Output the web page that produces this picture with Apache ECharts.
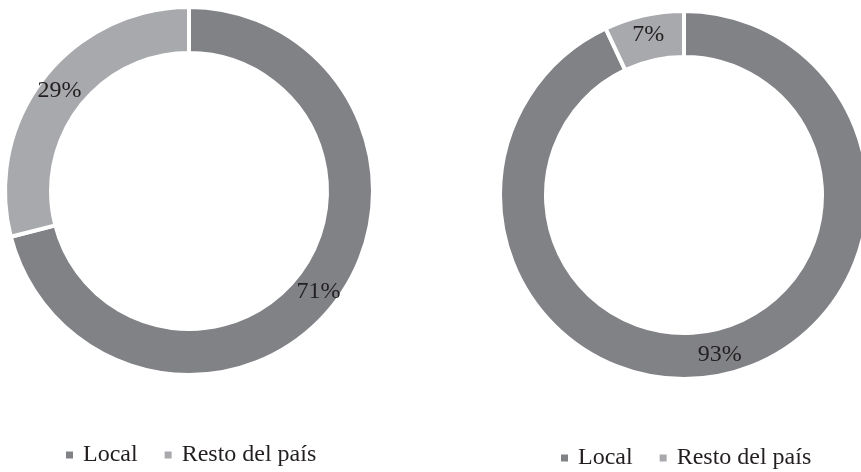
<!DOCTYPE html>
<html>
<head>
<meta charset="utf-8">
<script src="https://cdn.jsdelivr.net/npm/echarts@6/dist/echarts.min.js"></script>
<style>
html,body{margin:0;padding:0;background:#fff;}
#c{width:861px;height:472px;}
</style>
</head>
<body>
<div id="c"></div>
<script>
const categories = ['Local', 'Resto del país'];
const leftValues = [71, 29];
const rightValues = [93, 7];
const colors = ['#818286', '#a8a9ac'];

const chart = echarts.init(document.getElementById('c'), null, {renderer: 'canvas'});
const font = '"Liberation Serif", "DejaVu Serif", serif';

function pieSeries(values, center) {
  return {
    type: 'pie',
    center: center,
    radius: [138, 184],
    startAngle: 90,
    clockwise: true,
    avoidLabelOverlap: false,
    silent: true,
    itemStyle: {borderColor: '#ffffff', borderWidth: 4},
    label: {
      show: true,
      position: 'inside',
      formatter: p => p.value + '%',
      color: '#231f20',
      fontFamily: font,
      fontSize: 24
    },
    labelLine: {show: false},
    data: categories.map((n, i) => ({name: n, value: values[i], itemStyle: {color: colors[i]}}))
  };
}

function legend(left, top) {
  return {
    left: left,
    top: top,
    padding: 0,
    orient: 'horizontal',
    icon: 'rect',
    itemWidth: 7,
    itemHeight: 7,
    itemGap: 27,
    selectedMode: false,
    data: categories,
    itemStyle: {borderWidth: 0},
    textStyle: {color: '#231f20', fontFamily: font, fontSize: 24, padding: [0, 0, 0, 5]}
  };
}

chart.setOption({
  backgroundColor: '#ffffff',
  animation: false,
  color: colors,
  legend: [legend(66, 443), legend(561, 446)],
  series: [
    pieSeries(leftValues, [189, 191]),
    pieSeries(rightValues, [684, 195])
  ]
});
</script>
</body>
</html>
